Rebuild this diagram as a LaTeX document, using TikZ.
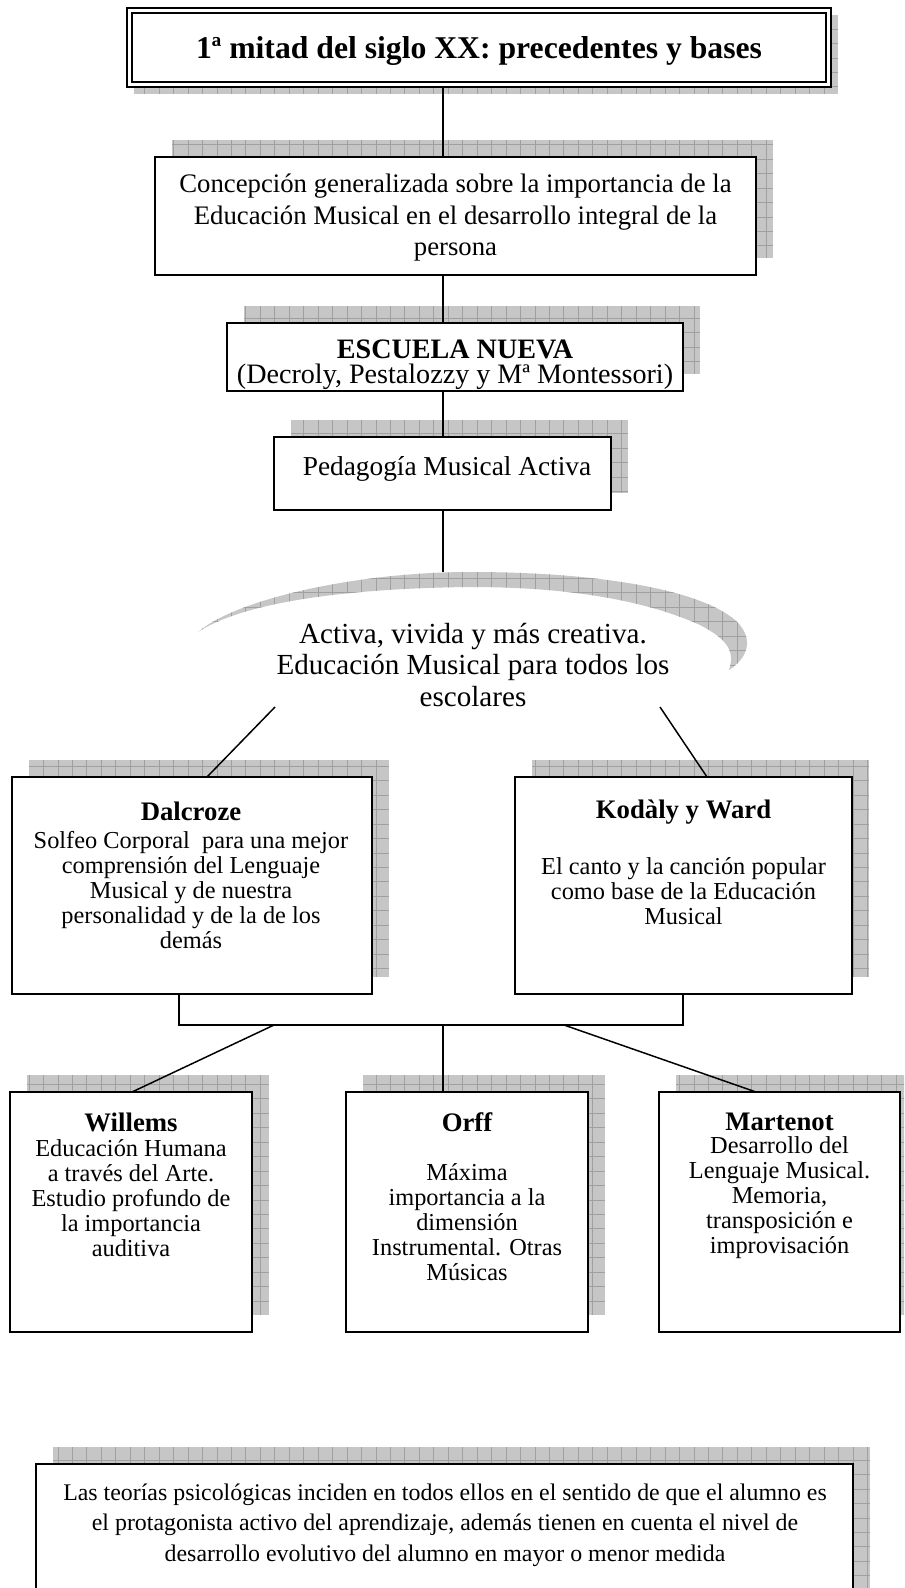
\documentclass[tikz,border=0pt]{standalone}
\usepackage{fontspec}
\setmainfont{Liberation Serif}
\usetikzlibrary{fit}

\definecolor{shadefill}{RGB}{198,198,198}
\definecolor{shadeline}{RGB}{160,160,160}

\tikzset{
  box/.style={draw=black, line width=1pt, fill=white, inner sep=0pt, outer sep=0pt},
  link/.style={draw=black, line width=0.75pt},
  gridlines/.style={draw=shadeline, line width=0.3pt},
  body/.style={align=center, inner sep=0pt, font=\fontsize{12.3}{12.6}\selectfont},
  head/.style={inner sep=0pt, font=\fontsize{13.5}{16}\selectfont\bfseries},
  bigtext/.style={align=center, inner sep=0pt, font=\fontsize{13.5}{15.9}\selectfont},
}

% squared grey shadow; corners given in px
\newcommand\gridshade[4]{%
  \begin{scope}
    \clip (#1,#2) rectangle (#3,#4);
    \fill[shadefill] (#1,#2) rectangle (#3,#4);
    \draw[gridlines, step=7.3pt] (#1,#2) grid (#3,#4);
  \end{scope}}

% framed box with its shadow offset up and to the right
\newcommand\shadedbox[5]{%
  \gridshade{#2+17}{#3-17}{#4+17}{#5-17}
  \node[box, fit={(#2,#3) (#4,#5)}] (#1) {};}

\begin{document}
\begin{tikzpicture}[x=0.505pt, y=-0.505pt]
\useasboundingbox (0,0) rectangle (904,1588);
\clip (0,0) rectangle (904,1588);
\fill[white] (0,0) rectangle (904,1588);

% title with double frame
\gridshade{134}{15}{838}{94}
\node[box, line width=1.5pt, fit={(127,8) (831,87)}] (title) {};
\draw[line width=0.75pt] (132,13) rectangle (826,82);
\node[inner sep=0pt, font=\fontsize{16}{19}\selectfont\bfseries] (title-t) at (479,51)
  {1ª mitad del siglo XX: precedentes y bases};

% central column
\shadedbox{concep}{155}{157}{756}{275}
\node[bigtext] (concep-t) at (455.5,218)
  {Concepción generalizada sobre la importancia de la\\
   Educación Musical en el desarrollo integral de la\\
   persona};

\shadedbox{escuela}{227}{323}{683}{391}
\node[align=center, inner sep=0pt, font=\fontsize{14.2}{12.8}\selectfont] (escuela-t) at (455,365)
  {\textbf{ESCUELA NUEVA}\\(Decroly, Pestalozzy y Mª Montessori)};

\shadedbox{pedag}{274}{437}{611}{510}
\node[inner sep=0pt, font=\fontsize{13.8}{16}\selectfont] (pedag-t) at (447,469)
  {Pedagogía Musical Activa};

% curved ribbon
\begin{scope}
  \clip (198,632) .. controls (238,598) and (360,572) .. (470,572)
        .. controls (600,572) and (700,590) .. (735,620)
        .. controls (755,638) and (748,658) .. (729,670)
        .. controls (736,650) and (725,638) .. (700,625)
        .. controls (640,598) and (560,587) .. (470,587)
        .. controls (370,588) and (250,598) .. (198,632) -- cycle;
  \fill[shadefill] (190,560) rectangle (760,680);
  \draw[gridlines, step=7.3pt] (190,560) grid (760,680);
\end{scope}
\node[align=center, inner sep=0pt, font=\fontsize{14.7}{15.9}\selectfont] (banner) at (473,665)
  {Activa, vivida y más creativa.\\
   Educación Musical para todos los\\
   escolares};

% second level
\shadedbox{dal}{12}{777}{372}{994}
\node[head] (dal-h) at (191,811) {Dalcroze};
\node[body] (dal-t) at (191,890)
  {Solfeo Corporal\ \ para una mejor\\
   comprensión del Lenguaje\\
   Musical y de nuestra\\
   personalidad y de la de los\\
   demás};

\shadedbox{kod}{515}{777}{852}{994}
\node[head] (kod-h) at (683.5,812) {Kodàly y Ward};
\node[body] (kod-t) at (683.5,891)
  {El canto y la canción popular\\
   como base de la Educación\\
   Musical};

% third level
\shadedbox{wil}{10}{1092}{252}{1332}
\node[head] (wil-h) at (131,1122) {Willems};
\node[body] (wil-t) at (131,1198)
  {Educación Humana\\
   a través del Arte.\\
   Estudio profundo de\\
   la importancia\\
   auditiva};

\shadedbox{orff}{346}{1092}{588}{1332}
\node[head] (orff-h) at (467,1122) {Orff};
\node[body] (orff-t) at (467,1222)
  {Máxima\\
   importancia a la\\
   dimensión\\
   Instrumental. Otras\\
   Músicas};

\shadedbox{mart}{659}{1092}{900}{1332}
\node[head] (mart-h) at (779.5,1122) {Martenot};
\node[body] (mart-t) at (779.5,1198)
  {Desarrollo del\\
   Lenguaje Musical.\\
   Memoria,\\
   transposición e\\
   improvisación};

% closing note
\shadedbox{teor}{36}{1464}{853}{1620}
\node[align=center, inner sep=0pt, font=\fontsize{12.05}{15.4}\selectfont] (teor-t) at (445,1525)
  {Las teorías psicológicas inciden en todos ellos en el sentido de que el alumno es\\
   el protagonista activo del aprendizaje, además tienen en cuenta el nivel de\\
   desarrollo evolutivo del alumno en mayor o menor medida};

% connectors
\coordinate (spine) at (443,0);
\coordinate (bantop) at (443,572);
\coordinate (banL) at (275,707);
\coordinate (banR) at (660,707);
\coordinate (dalx) at (207,0);
\coordinate (kodx) at (707,0);
\coordinate (legL) at (179,1025);
\coordinate (legR) at (683,1025);
\coordinate (hub) at (443,1025);
\coordinate (spL) at (274,1025);
\coordinate (spR) at (564,1025);
\coordinate (wilx) at (132,0);
\coordinate (martx) at (756,0);

\draw[link] (title.south -| spine) -- (concep.north -| spine);
\draw[link] (concep.south -| spine) -- (escuela.north -| spine);
\draw[link] (escuela.south -| spine) -- (pedag.north -| spine);
\draw[link] (pedag.south -| spine) -- (bantop);
\draw[link] (banL) -- (dal.north -| dalx);
\draw[link] (banR) -- (kod.north -| kodx);
\draw[link] (dal.south -| legL) -- (legL) -- (legR) -- (kod.south -| legR);
\draw[link] (spL) -- (wil.north -| wilx);
\draw[link] (hub) -- (orff.north -| hub);
\draw[link] (spR) -- (mart.north -| martx);
\end{tikzpicture}
\end{document}
